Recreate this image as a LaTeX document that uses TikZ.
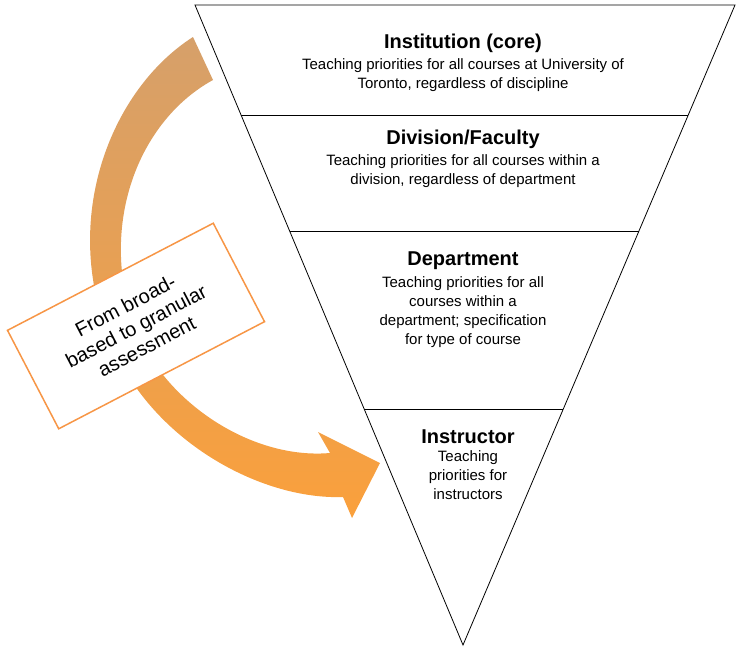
\documentclass[tikz,border=0pt]{standalone}
\usepackage{fontspec}
\setmainfont{Liberation Sans}
\usetikzlibrary{calc, positioning}
\tikzset{
	title/.style = {font=\fontsize{20}{22}\selectfont\bfseries, inner sep=0pt},
	body/.style = {font=\fontsize{15}{19}\selectfont, align=center, inner sep=0pt},
	level/.style = {line width=0.8pt}
}
\begin{document}
\begin{tikzpicture}[x=1pt, y=-1pt]
		\useasboundingbox (0, 0) rectangle (739, 653);
		% the funnel
		\coordinate (tl) at (195, 5);
		\coordinate (tr) at (735, 5);
		\coordinate (apex) at (463, 645);
		\draw [level] (tl) -- (tr) -- (apex) -- cycle;
		\foreach \y in {115, 231, 409} {
			\draw [level] ($(tl)!{(\y-5)/640}!(apex)$) -- ($(tr)!{(\y-5)/640}!(apex)$);
		}
		\node [title] (inst) at (463, 43) {Institution (core)};
		\node [body, below=6pt of inst] {Teaching priorities for all courses at University of\\Toronto, regardless of discipline};
		\node [title] (div) at (463, 139) {Division/Faculty};
		\node [body, below=6pt of div] {Teaching priorities for all courses within a\\division, regardless of department};
		\node [title] (dept) at (463, 261) {Department};
		\node [body, below=6pt of dept] {Teaching priorities for all\\courses within a\\department; specification\\for type of course};
		\node [title] (instr) at (468, 437) {Instructor};
		\node [body, below=6pt of instr] {Teaching\\priorities for\\instructors};
		% curved arrow
		\shade [top color={rgb,255:red,214;green,160;blue,106}, bottom color={rgb,255:red,250;green,160;blue,60}]
			(193, 37) .. controls (110, 90) and (60, 220) .. (110, 340)
			.. controls (150, 440) and (260, 500) .. (343, 497)
			-- (352, 518) -- (380, 463) -- (318, 432) -- (330, 453)
			.. controls (250, 460) and (160, 400) .. (132, 320)
			.. controls (100, 220) and (140, 120) .. (213, 80) -- cycle;
		% label box
		\node [draw={rgb,255:red,247;green,150;blue,70}, line width=1.5pt, fill=white,
			rotate=27.5, minimum width=232pt, minimum height=111pt, align=center,
			font=\fontsize{20}{23}\selectfont] (note) at (136, 326)
			{From broad-\\based to granular\\assessment};
\end{tikzpicture}
\end{document}
